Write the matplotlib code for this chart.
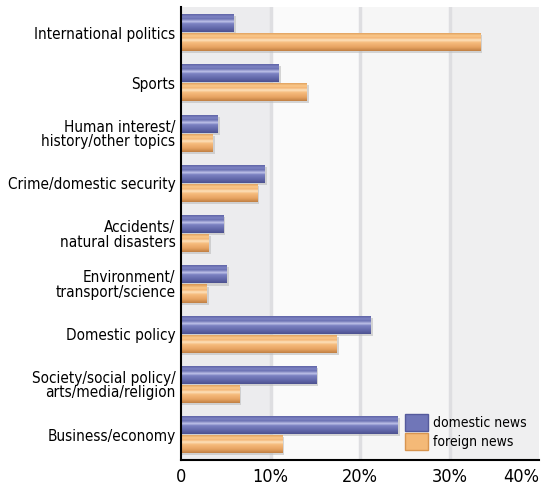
import matplotlib
matplotlib.use("Agg")
import matplotlib.pyplot as plt
import numpy as np
from matplotlib.colors import LinearSegmentedColormap
from matplotlib.patches import Patch

plt.rcParams['font.family'] = ['DejaVu Sans']
plt.rcParams['font.stretch'] = 'condensed'

categories = ["International politics", "Sports", "Human interest/\nhistory/other topics",
              "Crime/domestic security", "Accidents/\nnatural disasters",
              "Environment/\ntransport/science", "Domestic policy",
              "Society/social policy/\narts/media/religion", "Business/economy"]
domestic = [5.9, 10.9, 4.1, 9.3, 4.7, 5.1, 21.2, 15.1, 24.2]
foreign = [33.4, 14.0, 3.5, 8.5, 3.1, 2.9, 17.4, 6.5, 11.3]
series_names = ["domestic news", "foreign news"]

blue_cmap = LinearSegmentedColormap.from_list(
    "b", [(0, "#555a9c"), (0.2, "#7e84c4"), (0.3, "#6a70b2"), (0.45, "#c0c4ea"),
          (0.55, "#7d83c3"), (0.8, "#6268aa"), (1, "#4c518f")])
orange_cmap = LinearSegmentedColormap.from_list(
    "o", [(0, "#d8954f"), (0.2, "#fbc98c"), (0.3, "#f3b574"), (0.42, "#fde2bd"),
          (0.55, "#f6bc7d"), (0.8, "#e7a362"), (1, "#c07f43")])

fig = plt.figure(figsize=(5.51, 4.92), dpi=100)
ax = fig.add_axes([0.3285, 0.065, 0.65, 0.92])

y = np.arange(len(categories))
h = 0.36
off = 0.19

band_cols = ["#ececee", "#fafafa", "#f6f6f6", "#efeff0"]
for i, c in enumerate(band_cols):
    ax.axvspan(i * 10, (i + 1) * 10, color=c, zorder=0, lw=0)
for xg in [10, 20, 30]:
    ax.axvline(xg, color="#dedee1", lw=2.5, zorder=0.5)

grad = np.linspace(0, 1, 128).reshape(-1, 1)


def draw_series(vals, pos, cmap):
    ax.barh(pos + 0.04, np.array(vals) + 0.25, height=h, color="#bcbcbc",
            alpha=0.6, zorder=1, lw=0)
    bars = ax.barh(pos, vals, height=h, color="none", zorder=2, lw=0)
    for b in bars:
        x0, y0 = b.get_x(), b.get_y()
        im = ax.imshow(grad, cmap=cmap, aspect="auto",
                       extent=(x0, x0 + b.get_width(), y0 + b.get_height(), y0),
                       zorder=2, interpolation="bilinear")
        im.set_clip_path(b)
    return bars


draw_series(domestic, y - off, blue_cmap)
draw_series(foreign, y + off, orange_cmap)

ax.set_xlim(0, 40)
ax.set_ylim(8.5, -0.5)
ax.set_yticks(y)
ax.set_yticklabels(categories, fontsize=11, linespacing=0.95)
ax.set_xticks([0, 10, 20, 30, 40])
ax.set_xticklabels(["0", "10%", "20%", "30%", "40%"], fontsize=13)
ax.get_xticklabels()[-1].set_horizontalalignment("right")
ax.tick_params(axis="y", length=0, pad=4)
ax.tick_params(axis="x", length=0, pad=6)
for s in ["top", "right"]:
    ax.spines[s].set_visible(False)
ax.spines["left"].set_linewidth(1.5)
ax.spines["bottom"].set_linewidth(1.5)

handles = [Patch(facecolor="#7076b8", edgecolor="#555a9c"),
           Patch(facecolor="#f4b977", edgecolor="#d8954f")]
leg = ax.legend(handles, series_names, loc="lower right", fontsize=10,
                frameon=False, handlelength=1.7, handleheight=1.5,
                handletextpad=0.35, labelspacing=0.15,
                bbox_to_anchor=(1.0, -0.005))

fig.savefig("out.png", dpi=100)
